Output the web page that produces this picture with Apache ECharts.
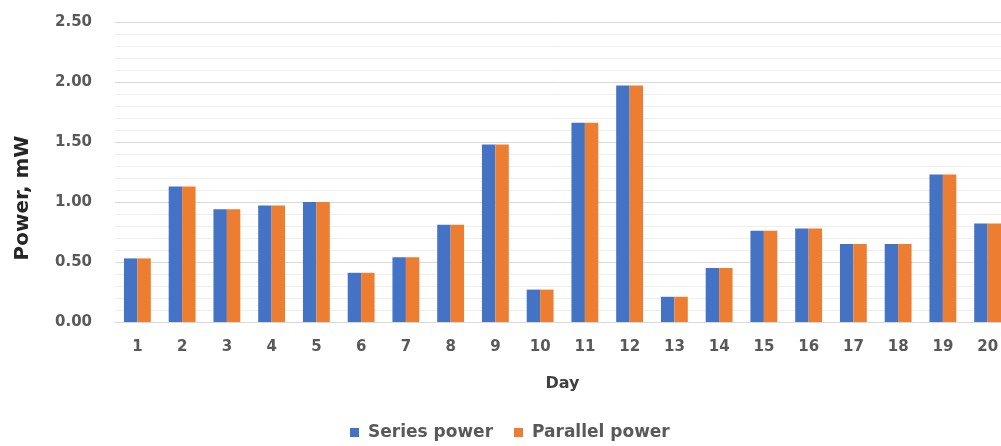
<!DOCTYPE html>
<html>
<head>
<meta charset="utf-8">
<script src="https://cdn.jsdelivr.net/npm/echarts@6/dist/echarts.min.js"></script>
<style>
  html, body { margin: 0; padding: 0; background: #ffffff; overflow: hidden; }
  #chart { width: 1001px; height: 446px; }
</style>
</head>
<body>
<div id="chart"></div>
<script>
// Daily power output, mW
const days = ['1','2','3','4','5','6','7','8','9','10','11','12','13','14','15','16','17','18','19','20'];
const seriesPower   = [0.53, 1.13, 0.94, 0.97, 1.00, 0.41, 0.54, 0.81, 1.48, 0.27, 1.66, 1.97, 0.21, 0.45, 0.76, 0.78, 0.65, 0.65, 1.23, 0.82];
const parallelPower = [0.53, 1.13, 0.94, 0.97, 1.00, 0.41, 0.54, 0.81, 1.48, 0.27, 1.66, 1.97, 0.21, 0.45, 0.76, 0.78, 0.65, 0.65, 1.23, 0.82];
const yTicks = { min: 0, max: 2.5, step: 0.5 };

const FONT = '"DejaVu Sans", "Open Sans", sans-serif';
const chart = echarts.init(document.getElementById('chart'), null, { renderer: 'canvas' });

chart.setOption({
  animation: false,
  textStyle: { fontFamily: FONT },
  // plot area runs a little past the right edge of the canvas
  grid: { left: 115, width: 895, top: 22, bottom: 124, outerBoundsMode: 'none', containLabel: false },
  legend: {
    data: ['Series power', 'Parallel power'],
    left: 345,
    top: 419,
    itemWidth: 9,
    itemHeight: 9,
    itemGap: 21,
    icon: 'rect',
    textStyle: { fontFamily: FONT, fontWeight: 'bold', fontSize: 17, color: '#595959', padding: [0, 0, 0, 4] }
  },
  graphic: [{
    type: 'text',
    x: 23,
    y: 198,
    rotation: Math.PI / 2,
    style: {
      text: 'Power, mW',
      font: 'bold 20px ' + FONT,
      fill: '#262626',
      textAlign: 'center',
      textVerticalAlign: 'middle'
    }
  }],
  xAxis: {
    type: 'category',
    data: days,
    name: 'Day',
    nameLocation: 'middle',
    nameGap: 54,
    nameTextStyle: { fontFamily: FONT, fontWeight: 'bold', fontSize: 16, color: '#404040' },
    axisLine: { lineStyle: { color: '#d9d9d9', width: 1 } },
    axisTick: { show: false },
    axisLabel: { fontFamily: FONT, fontWeight: 'bold', fontSize: 15, color: '#595959', margin: 18 }
  },
  yAxis: {
    type: 'value',
    min: yTicks.min,
    max: yTicks.max,
    interval: yTicks.step,
    axisLine: { show: false },
    axisTick: { show: false },
    axisLabel: {
      fontFamily: FONT, fontWeight: 'bold', fontSize: 15, color: '#595959', margin: 23,
      formatter: v => v.toFixed(2)
    },
    splitLine: { lineStyle: { color: '#d9d9d9', width: 1 } },
    minorTick: { show: false, splitNumber: 5 },
    minorSplitLine: { show: true, lineStyle: { color: '#efefef', width: 1 } }
  },
  series: [
    {
      name: 'Series power',
      type: 'bar',
      data: seriesPower,
      barGap: '0%',
      barCategoryGap: '40%',
      itemStyle: { color: '#4472c4' }
    },
    {
      name: 'Parallel power',
      type: 'bar',
      data: parallelPower,
      barGap: '0%',
      barCategoryGap: '40%',
      itemStyle: { color: '#ed7d31' }
    }
  ]
});
</script>
</body>
</html>
